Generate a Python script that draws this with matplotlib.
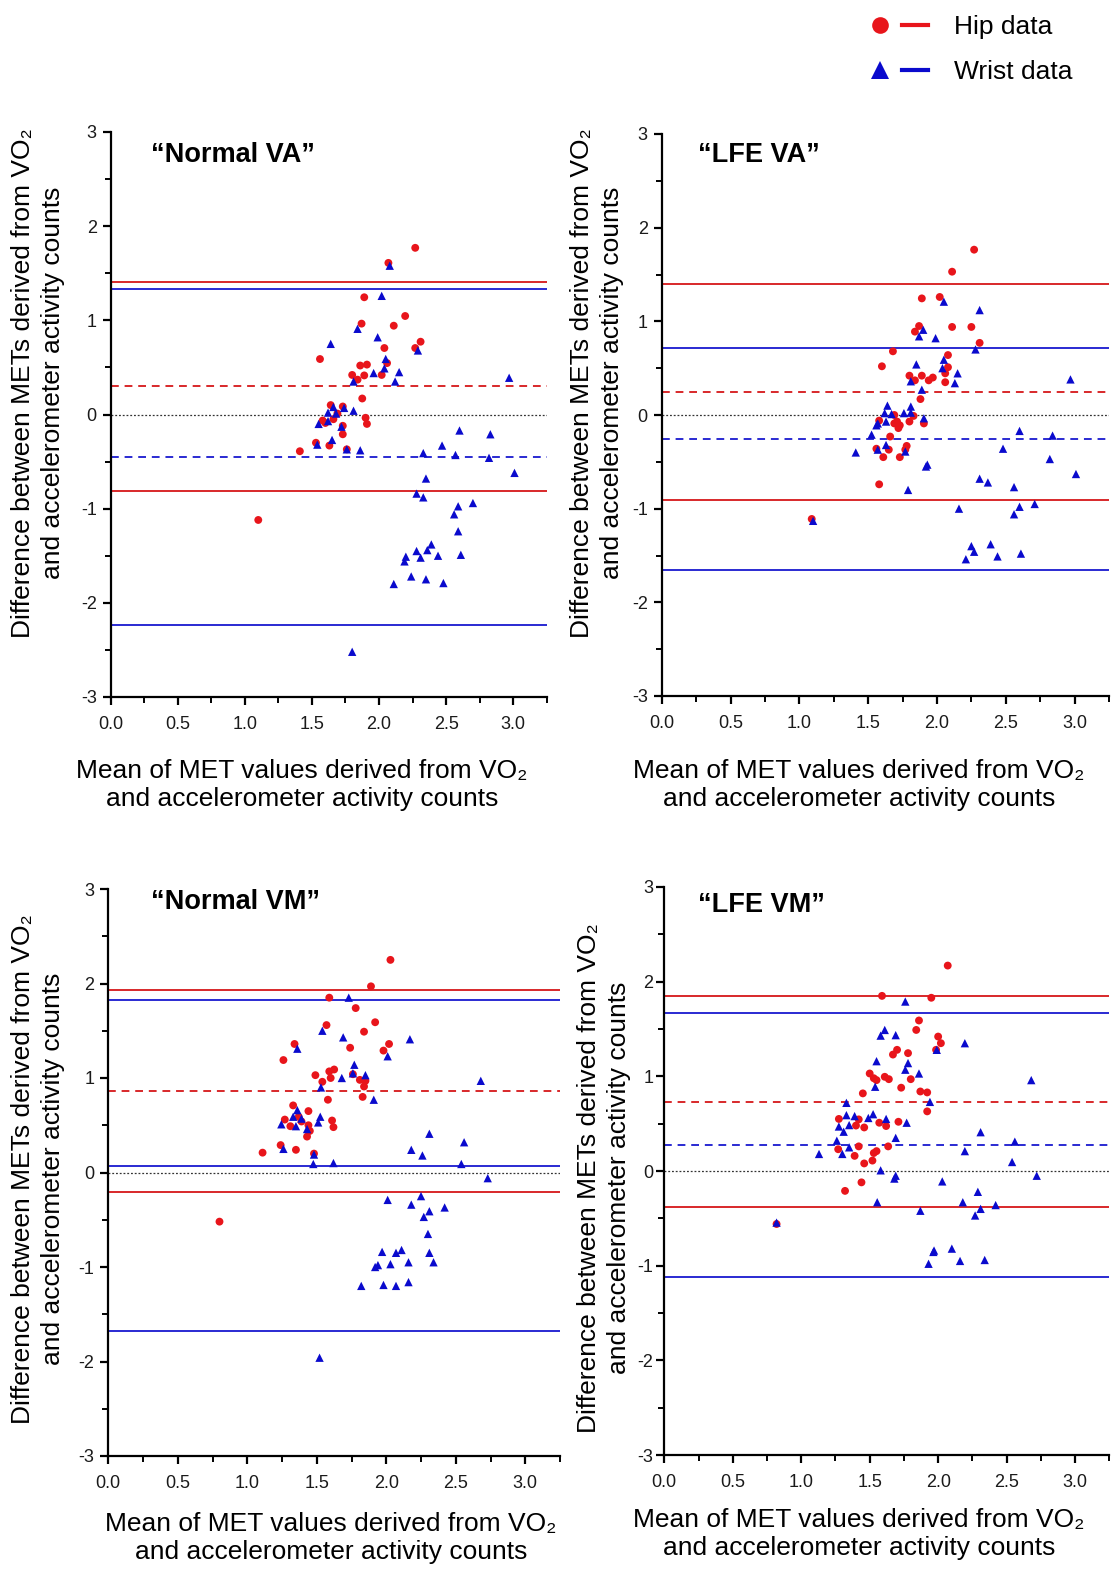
import matplotlib
matplotlib.use("Agg")
import matplotlib.pyplot as plt
from matplotlib.lines import Line2D
from matplotlib.legend_handler import HandlerTuple
from matplotlib.ticker import MultipleLocator, FormatStrFormatter

FONT = ['Liberation Sans', 'DejaVu Sans']
plt.rcParams['font.family'] = FONT
plt.rcParams['axes.unicode_minus'] = False

RED = '#E8151B'
BLUE = '#0A0ACD'
RED_LINE = '#D8282A'
BLUE_LINE = '#2A2AD2'

titles = ['\u201cNormal VA\u201d', '\u201cLFE VA\u201d', '\u201cNormal VM\u201d', '\u201cLFE VM\u201d']

# ---- Panel 1: Normal VA ----
nva_hip_x = [2.27, 2.07, 1.89, 2.195, 2.11, 1.87, 2.31, 2.27, 2.04, 1.56, 1.86, 1.91, 2.06, 2.02, 1.80,
             1.84, 1.89, 1.875, 1.64, 1.73, 1.69, 1.90, 1.58, 1.60, 1.66, 1.91, 1.73, 1.73, 1.53, 1.63,
             1.41, 1.76, 1.10]
nva_hip_y = [1.77, 1.61, 1.245, 1.046, 0.943, 0.965, 0.773, 0.706, 0.706, 0.589, 0.52, 0.53, 0.546, 0.42, 0.42,
             0.37, 0.415, 0.17, 0.10, 0.085, 0.01, -0.035, -0.064, -0.09, -0.05, -0.10, -0.12, -0.21, -0.30, -0.33,
             -0.39, -0.37, -1.12]
nva_wr_x = [2.08, 2.02, 1.84, 1.64, 1.99, 2.05, 2.04, 2.29, 1.96, 2.15, 2.12, 1.81, 2.97,
            1.62, 1.66, 1.74, 1.81, 1.68, 1.55, 1.62, 1.72, 1.54, 1.65, 1.76, 1.86,
            2.60, 2.83, 2.47, 2.33, 2.57, 2.82, 3.01, 2.35, 2.28, 2.33, 2.70, 2.59, 2.56, 2.59,
            2.39, 2.28, 2.36, 2.20, 2.19, 2.31, 2.44, 2.61, 2.24, 2.35, 2.11, 2.48, 1.80]
nva_wr_y = [1.58, 1.26, 0.91, 0.75, 0.82, 0.59, 0.49, 0.68, 0.44, 0.45, 0.35, 0.35, 0.39,
            0.02, 0.08, 0.07, 0.04, 0.01, -0.10, -0.07, -0.13, -0.32, -0.27, -0.37, -0.38,
            -0.17, -0.21, -0.33, -0.41, -0.43, -0.46, -0.62, -0.68, -0.84, -0.88, -0.94, -0.975, -1.06, -1.24,
            -1.38, -1.45, -1.44, -1.51, -1.56, -1.52, -1.50, -1.49, -1.72, -1.75, -1.80, -1.79, -2.52]
nva_lines = dict(hip_mean=0.30, hip_lo=-0.81, hip_hi=1.41, wr_mean=-0.45, wr_lo=-2.24, wr_hi=1.33)

# ---- Panel 2: LFE VA ----
lva_hip_x = [2.27, 2.11, 1.89, 2.02, 2.11, 2.25, 1.84, 1.87, 2.31, 1.68, 2.08, 1.60, 2.08, 2.06, 1.80,
             1.84, 1.89, 1.94, 1.97, 2.06, 1.88, 1.69, 1.83,
             1.58, 1.71, 1.73, 1.69, 1.72, 1.80, 1.905, 1.66, 1.56, 1.65, 1.61, 1.73, 1.78, 1.77, 1.58, 1.09]
lva_hip_y = [1.765, 1.53, 1.245, 1.26, 0.94, 0.94, 0.89, 0.95, 0.77, 0.68, 0.64, 0.52, 0.51, 0.445, 0.42,
             0.37, 0.42, 0.37, 0.40, 0.35, 0.17, 0.0, -0.01,
             -0.06, -0.07, -0.11, -0.09, -0.14, -0.07, -0.09, -0.23, -0.36, -0.37, -0.45, -0.45, -0.33, -0.37, -0.74, -1.11]
lva_wr_x = [2.05, 2.31, 1.90, 1.87, 1.99, 2.28, 1.85, 2.05, 2.04, 2.15, 2.13, 1.81, 1.89, 2.97,
            1.64, 1.62, 1.67, 1.76, 1.81, 1.81, 1.905,
            1.56, 1.57, 1.63, 1.525, 1.57, 1.63, 1.77, 1.41, 1.92, 1.93, 1.79,
            2.60, 2.84, 2.48, 2.82, 3.01, 2.31, 2.37, 2.56, 2.16, 2.71, 2.60, 2.56, 1.10,
            2.25, 2.27, 2.39, 2.21, 2.44, 2.61]
lva_wr_y = [1.21, 1.12, 0.91, 0.84, 0.82, 0.70, 0.54, 0.59, 0.50, 0.445, 0.34, 0.36, 0.27, 0.38,
            0.10, 0.02, 0.01, 0.02, 0.09, 0.025, -0.035,
            -0.11, -0.09, -0.07, -0.21, -0.37, -0.32, -0.39, -0.40, -0.55, -0.53, -0.80,
            -0.17, -0.22, -0.36, -0.47, -0.63, -0.68, -0.72, -0.77, -1.00, -0.95, -0.98, -1.06, -1.13,
            -1.40, -1.46, -1.38, -1.54, -1.51, -1.48]
lva_lines = dict(hip_mean=0.245, hip_lo=-0.91, hip_hi=1.40, wr_mean=-0.26, wr_lo=-1.66, wr_hi=0.72)

# ---- Panel 3: Normal VM ----
nvm_hip_x = [2.03, 1.89, 1.59, 1.78, 1.92, 1.57, 1.84, 1.34, 2.02, 1.98, 1.74, 1.26, 1.49, 1.59, 1.625,
             1.60, 1.54, 1.76, 1.81, 1.85, 1.84, 1.83, 1.58, 1.33, 1.44, 1.37, 1.27, 1.31, 1.39, 1.44,
             1.45, 1.43, 1.61, 1.62, 1.24, 1.35, 1.11, 1.48, 0.80]
nvm_hip_y = [2.25, 1.97, 1.85, 1.74, 1.59, 1.56, 1.49, 1.36, 1.36, 1.29, 1.32, 1.19, 1.03, 1.07, 1.09,
             1.00, 0.96, 1.04, 0.98, 0.97, 0.91, 0.80, 0.77, 0.71, 0.65, 0.59, 0.56, 0.49, 0.54, 0.50,
             0.44, 0.38, 0.55, 0.48, 0.29, 0.24, 0.21, 0.20, -0.52]
nvm_wr_x = [1.73, 1.54, 1.69, 2.17, 1.36, 2.01, 1.77, 1.76, 1.85, 1.68, 2.68, 1.53, 1.91, 1.36, 1.33,
            1.39, 1.245, 1.35, 1.43, 1.51, 1.525, 1.26, 1.48, 2.31, 2.56, 2.18, 2.26, 1.475, 1.62, 2.54, 2.73,
            2.01, 2.18, 2.25, 2.31, 2.27, 2.42, 2.30, 1.97, 2.07, 2.11, 2.31, 1.92, 1.94, 2.03, 2.16, 2.34,
            1.82, 1.98, 2.07, 2.16, 1.52]
nvm_wr_y = [1.85, 1.50, 1.43, 1.41, 1.31, 1.23, 1.14, 1.05, 1.03, 1.00, 0.97, 0.90, 0.77, 0.66, 0.59,
            0.57, 0.51, 0.49, 0.46, 0.53, 0.59, 0.25, 0.19, 0.41, 0.32, 0.24, 0.18, 0.09, 0.10, 0.09, -0.06,
            -0.29, -0.34, -0.25, -0.41, -0.47, -0.37, -0.65, -0.84, -0.85, -0.82, -0.85, -1.00, -0.98, -0.97, -0.95, -0.95,
            -1.20, -1.19, -1.20, -1.16, -1.96]
nvm_lines = dict(hip_mean=0.865, hip_lo=-0.21, hip_hi=1.934, wr_mean=0.07, wr_lo=-1.68, wr_hi=1.83)

# ---- Panel 4: LFE VM ----
lvm_hip_x = [2.07, 1.59, 1.95, 1.86, 1.84, 2.00, 2.02, 1.985, 1.70, 1.67, 1.78, 1.50, 1.53, 1.55, 1.61,
             1.64, 1.80, 1.73, 1.87, 1.92, 1.45, 1.92, 1.275, 1.42, 1.40, 1.46, 1.57, 1.71, 1.62, 1.27,
             1.42, 1.635, 1.39, 1.55, 1.53, 1.52, 1.46, 1.44, 1.32, 0.82]
lvm_hip_y = [2.17, 1.85, 1.83, 1.59, 1.49, 1.42, 1.35, 1.28, 1.28, 1.23, 1.245, 1.03, 0.98, 0.96, 0.995,
             0.97, 0.97, 0.88, 0.84, 0.83, 0.82, 0.63, 0.55, 0.545, 0.48, 0.46, 0.51, 0.52, 0.475, 0.23,
             0.26, 0.26, 0.16, 0.21, 0.19, 0.11, 0.08, -0.12, -0.21, -0.56]
lvm_wr_x = [1.76, 1.61, 1.58, 1.69, 2.195, 1.99, 1.55, 1.78, 1.76, 1.86, 2.68, 1.54, 1.94, 1.33, 1.33,
            1.39, 1.49, 1.525, 1.62, 1.77, 1.275, 1.31, 1.35, 2.31, 1.69, 1.26, 2.56, 1.35, 1.13, 1.30,
            2.195, 2.54, 1.58, 1.69, 1.68, 2.03, 2.72,
            2.29, 1.555, 2.18, 2.42, 2.31, 1.87, 2.27, 0.82, 1.97, 1.965, 2.10, 1.93, 2.16, 2.34]
lvm_wr_y = [1.79, 1.49, 1.43, 1.435, 1.35, 1.28, 1.16, 1.14, 1.07, 1.03, 0.96, 0.89, 0.73, 0.72, 0.59,
            0.58, 0.56, 0.60, 0.55, 0.51, 0.47, 0.415, 0.485, 0.41, 0.35, 0.32, 0.31, 0.25, 0.18, 0.18,
            0.21, 0.095, 0.007, -0.05, -0.08, -0.11, -0.05,
            -0.22, -0.33, -0.33, -0.36, -0.40, -0.42, -0.47, -0.545, -0.84, -0.855, -0.82, -0.98, -0.95, -0.94]
lvm_lines = dict(hip_mean=0.73, hip_lo=-0.376, hip_hi=1.85, wr_mean=0.27, wr_lo=-1.12, wr_hi=1.665)

panels = [
    (nva_hip_x, nva_hip_y, nva_wr_x, nva_wr_y, nva_lines),
    (lva_hip_x, lva_hip_y, lva_wr_x, lva_wr_y, lva_lines),
    (nvm_hip_x, nvm_hip_y, nvm_wr_x, nvm_wr_y, nvm_lines),
    (lvm_hip_x, lvm_hip_y, lvm_wr_x, lvm_wr_y, lvm_lines),
]
# blue mean line style per panel (solid in Normal VM)
wr_mean_styles = ['--', '--', '-', '--']

W, H = 1119, 1576
fig = plt.figure(figsize=(W / 100, H / 100), dpi=100)

# axes boxes in pixels: left, top, right, bottom
boxes = [
    (110.7, 132, 546.7, 697),
    (661.7, 134, 1109, 696),
    (108.3, 889, 560, 1456),
    (664.3, 887, 1109.3, 1455),
]
ylabel_pos = [(38, 383), (597, 383), (38, 1169), (604, 1178)]
xlabel_pos = [(302, 785), (859, 785), (331, 1538), (859, 1534)]
title_pos = [(151, 155), (698, 155), (151, 902), (698, 905)]
ypads = [4, 4, 4, 2]

ylab = 'Difference between METs derived from VO\u2082\nand accelerometer activity counts'
xlab = 'Mean of MET values derived from VO\u2082\nand accelerometer activity counts'

for i, (hx, hy, wx, wy, ln) in enumerate(panels):
    l, t, r, b = boxes[i]
    ax = fig.add_axes([l / W, 1 - b / H, (r - l) / W, (b - t) / H])
    ax.set_xlim(0, 3.25)
    ax.set_ylim(-3, 3)
    for s in ['top', 'right']:
        ax.spines[s].set_visible(False)
    for s in ['left', 'bottom']:
        ax.spines[s].set_linewidth(1.6)
    ax.xaxis.set_major_locator(MultipleLocator(0.5))
    ax.xaxis.set_minor_locator(MultipleLocator(0.25))
    ax.yaxis.set_major_locator(MultipleLocator(1))
    ax.yaxis.set_minor_locator(MultipleLocator(0.5))
    ax.xaxis.set_major_formatter(FormatStrFormatter('%.1f'))
    ax.tick_params(which='major', length=6, width=1.6, labelsize=13, colors='black', labelcolor='#1a1a1a')
    ax.tick_params(which='minor', length=4, width=1.4)
    ax.tick_params(axis='x', which='major', pad=8)
    ax.tick_params(axis='y', which='major', pad=ypads[i])

    ax.axhline(0, color='#333333', lw=0.9, ls=(0, (1.5, 1.5)), zorder=1)
    ax.axhline(ln['hip_hi'], color=RED_LINE, lw=1.4, zorder=1)
    ax.axhline(ln['hip_lo'], color=RED_LINE, lw=1.4, zorder=1)
    ax.axhline(ln['hip_mean'], color=RED_LINE, lw=1.4, ls=(0, (4, 3)), zorder=1)
    ax.axhline(ln['wr_hi'], color=BLUE_LINE, lw=1.4, zorder=1)
    ax.axhline(ln['wr_lo'], color=BLUE_LINE, lw=1.4, zorder=1)
    ax.axhline(ln['wr_mean'], color=BLUE_LINE, lw=1.4,
               ls=(0, (4, 3)) if wr_mean_styles[i] == '--' else '-', zorder=1)

    ax.scatter(hx, hy, marker='o', s=32, color=RED, edgecolors='none', zorder=3)
    ax.scatter(wx, wy, marker='^', s=36, color=BLUE, edgecolors='none', zorder=4)

    tx, ty = title_pos[i]
    fig.text(tx / W, 1 - ty / H, titles[i], fontsize=19.5, fontweight='bold', ha='left', va='center')
    yx, yy = ylabel_pos[i]
    fig.text(yx / W, 1 - yy / H, ylab, rotation=90, fontsize=19, ha='center', va='center',
             multialignment='center', linespacing=1.3)
    xx, xy = xlabel_pos[i]
    fig.text(xx / W, 1 - xy / H, xlab, fontsize=19, ha='center', va='center',
             multialignment='center', linespacing=1.25)

# legend
hip_m = Line2D([], [], marker='o', ls='none', color=RED, markersize=12, markeredgewidth=0)
hip_l = Line2D([], [], color=RED, lw=3)
wr_m = Line2D([], [], marker='^', ls='none', color=BLUE, markersize=13, markeredgewidth=0)
wr_l = Line2D([], [], color=BLUE, lw=3)
fig.legend([(hip_m, hip_l), (wr_m, wr_l)], ['Hip data', 'Wrist data'],
           handler_map={tuple: HandlerTuple(ndivide=None, pad=0.3)},
           loc='upper left', bbox_to_anchor=(862 / W, 1 - 10 / H), frameon=False,
           fontsize=19, handlelength=2.3, handletextpad=1.0, labelspacing=0.78,
           borderpad=0.2, borderaxespad=0)

fig.savefig('out.png', dpi=100)
